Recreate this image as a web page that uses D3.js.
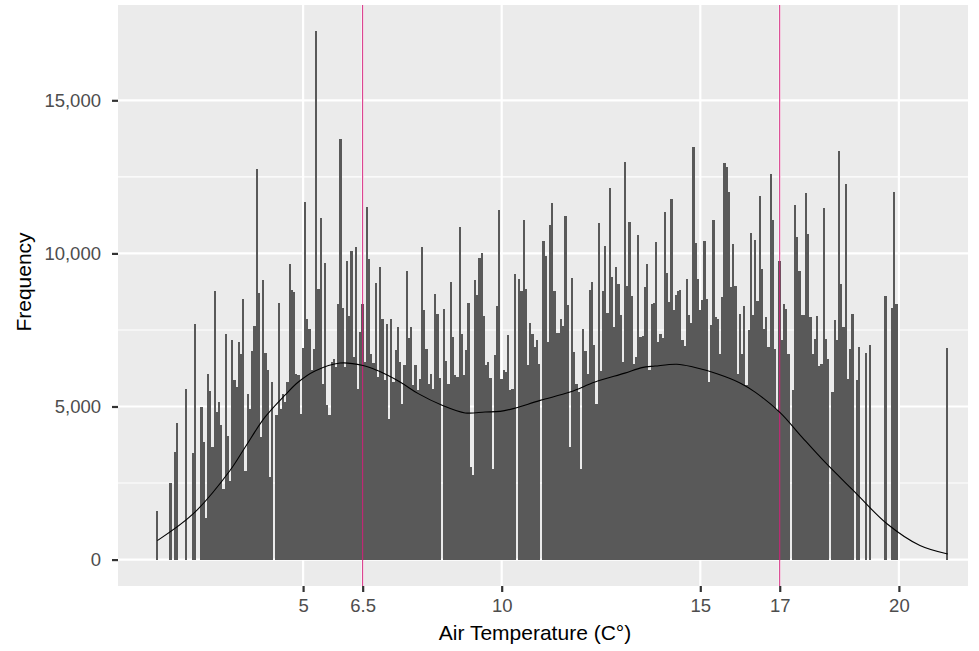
<!DOCTYPE html>
<html>
<head>
<meta charset="utf-8">
<script src="https://cdn.jsdelivr.net/npm/d3@7/dist/d3.min.js"></script>
<style>
	body { margin: 0; background: #fff; }
	text { font-family: "Liberation Sans", Arial, Helvetica, sans-serif; }
</style>
</head>
<body>
<div id="chart"></div>
<script>
	'use strict';

	// histogram bins: first bin centre (C) and spacing between bins
	var binStart = 1.33,
			binStep = 1 / 18;

	// counts per bin (10 per row)
	var counts = [
		1600, 0, 0, 0, 0, 0, 2500, 0, 3530, 4460,
		0, 0, 0, 5580, 0, 0, 3480, 7680, 0, 0,
		4980, 3840, 1350, 6050, 5500, 3670, 8760, 4820, 5140, 4380,
		2310, 7360, 4050, 2580, 7180, 5850, 5640, 7110, 6730, 8520,
		2900, 5420, 4930, 6810, 7630, 12770, 8720, 4000, 9120, 6750,
		6180, 2690, 5800, 0, 4710, 8380, 4930, 5420, 5140, 5800,
		9650, 8800, 8740, 6070, 6020, 4760, 6920, 11680, 7870, 7540,
		6180, 6890, 17250, 8850, 11140, 5740, 9690, 5040, 4710, 6450,
		6560, 6290, 8340, 13720, 8230, 6290, 9750, 7950, 10080, 6620,
		10210, 5580, 7430, 8340, 6450, 11520, 9810, 6730, 6420, 9030,
		5960, 9560, 7870, 5850, 7710, 4600, 7850, 5800, 6830, 7580,
		6450, 5090, 6340, 9420, 7240, 7580, 5690, 6370, 5530, 5910,
		10210, 8140, 6890, 5720, 6070, 5580, 8690, 8030, 5930, 0,
		8200, 6500, 5740, 9070, 7280, 6020, 5960, 10870, 7360, 6020,
		6830, 8380, 3020, 2750, 9120, 8650, 9860, 10010, 7970, 6340,
		6450, 5940, 2960, 6670, 8270, 11430, 5910, 6180, 6130, 7320,
		5550, 5580, 9320, 0, 9180, 8780, 11090, 8830, 6340, 7730,
		7380, 6940, 7160, 6380, 0, 10400, 9900, 7110, 10930, 11630,
		8780, 7410, 7410, 7850, 7630, 11220, 8310, 3670, 9210, 6780,
		5720, 5470, 2960, 7540, 6810, 6070, 8820, 9070, 7020, 5090,
		11000, 6160, 8760, 10230, 8050, 12120, 9230, 7600, 9560, 8990,
		7980, 6450, 12990, 8940, 11030, 8610, 6400, 6620, 10600, 7280,
		7290, 8910, 9670, 6200, 8360, 8390, 10380, 7110, 7360, 7240,
		11360, 9360, 8410, 11770, 8140, 8630, 8760, 8800, 7160, 6980,
		9180, 7980, 7730, 13480, 10340, 9180, 8140, 8470, 10410, 8520,
		5800, 7650, 11090, 7910, 7850, 6730, 8560, 12940, 12830, 12010,
		8910, 10320, 8930, 6050, 8030, 6730, 8280, 5690, 7500, 10650,
		8000, 10450, 8450, 11870, 9500, 7540, 7930, 6940, 12590, 11090,
		6890, 4870, 9750, 7180, 8340, 8200, 6730, 0, 5550, 11580,
		10520, 9420, 7980, 7980, 11960, 10630, 7910, 6710, 7220, 7950,
		6320, 6400, 11470, 7220, 6560, 0, 5470, 7820, 7160, 13340,
		9010, 7600, 12260, 5910, 6880, 8010, 0, 5850, 6950, 0,
		0, 6750, 0, 7020, 0, 0, 0, 0, 0, 0,
		8620, 0, 0, 8220, 12000, 8340, 0, 0, 0, 0,
		0, 0, 0, 0, 0, 0, 0, 0, 0, 0,
		0, 0, 0, 0, 0, 0, 0, 0, 6910
	];

	// smoothed curve over the histogram
	var densityTemp = [1.33, 2.23, 3.16, 3.54, 4.04, 4.55, 4.88, 5.30, 5.93, 6.51, 6.86, 7.44,
		7.90, 8.50, 9.08, 9.58, 9.96, 10.29, 10.97, 11.72, 12.35, 13.10, 13.53, 13.86,
		14.41, 14.82, 15.42, 16.00, 16.38, 17.01, 17.56, 18.14, 18.85, 19.70, 20.53, 21.23];
	var densityCount = [620, 1490, 2910, 3670, 4650, 5380, 5800, 6160, 6420, 6340, 6180, 5800,
		5420, 5040, 4790, 4820, 4840, 4930, 5200, 5470, 5800, 6090, 6270, 6320,
		6380, 6290, 6070, 5770, 5470, 4800, 4000, 3180, 2260, 1170, 460, 185];

	var xBreaks = [5, 6.5, 10, 15, 17, 20],
			yBreaks = [0, 5000, 10000, 15000],
			yMinor = [2500, 7500, 12500],
			refLines = [6.5, 17];

	var W = 979, H = 651,
			panel = { left: 118, right: 968, top: 5, bottom: 586 };

	var bins = counts.map(function (c, i) {
		return { temp: binStart + i * binStep, count: c };
	});

	var yMax = d3.max(counts),
			yPad = yMax * 0.05;

	var x = d3.scaleLinear().domain([0.34, 21.74]).range([panel.left, panel.right]);
	var y = d3.scaleLinear().domain([-yPad, yMax + yPad]).range([panel.bottom, panel.top]);

	var svg = d3.select('#chart')
		.append('svg')
		.attr('width', W)
		.attr('height', H);

	svg.append('rect')
		.attr('x', panel.left)
		.attr('y', panel.top)
		.attr('width', panel.right - panel.left)
		.attr('height', panel.bottom - panel.top)
		.attr('fill', '#EBEBEB');

	// grid
	svg.selectAll('.ygrid-minor')
		.data(yMinor)
		.enter().append('line')
		.attr('x1', panel.left).attr('x2', panel.right)
		.attr('y1', function (d) { return y(d); })
		.attr('y2', function (d) { return y(d); })
		.attr('stroke', '#fff').attr('stroke-width', 1.1);

	svg.selectAll('.ygrid')
		.data(yBreaks)
		.enter().append('line')
		.attr('x1', panel.left).attr('x2', panel.right)
		.attr('y1', function (d) { return y(d); })
		.attr('y2', function (d) { return y(d); })
		.attr('stroke', '#fff').attr('stroke-width', 2.2);

	svg.selectAll('.xgrid')
		.data(xBreaks)
		.enter().append('line')
		.attr('y1', panel.top).attr('y2', panel.bottom)
		.attr('x1', function (d) { return x(d); })
		.attr('x2', function (d) { return x(d); })
		.attr('stroke', '#fff').attr('stroke-width', 2.2);

	// bars
	var barW = x(binStep) - x(0);
	svg.append('g')
		.attr('shape-rendering', 'crispEdges')
		.selectAll('rect')
		.data(bins.filter(function (d) { return d.count > 0; }))
		.enter().append('rect')
		.attr('x', function (d) { return x(d.temp) - barW / 2; })
		.attr('width', barW)
		.attr('y', function (d) { return y(d.count); })
		.attr('height', function (d) { return y(0) - y(d.count); })
		.attr('fill', '#595959');

	// reference lines
	svg.selectAll('.vline')
		.data(refLines)
		.enter().append('line')
		.attr('y1', panel.top).attr('y2', panel.bottom)
		.attr('x1', function (d) { return x(d); })
		.attr('x2', function (d) { return x(d); })
		.attr('stroke', '#D4207A').attr('stroke-width', 1);

	// curve
	var curve = densityTemp.map(function (t, i) { return [t, densityCount[i]]; });
	svg.append('path')
		.datum(curve)
		.attr('fill', 'none')
		.attr('stroke', '#000')
		.attr('stroke-width', 1.1)
		.attr('d', d3.line()
			.x(function (d) { return x(d[0]); })
			.y(function (d) { return y(d[1]); })
			.curve(d3.curveCatmullRom.alpha(0.5))
		);

	// axes
	var xAxis = svg.append('g')
		.attr('transform', 'translate(0,' + panel.bottom + ')')
		.call(d3.axisBottom(x).tickValues(xBreaks).tickSize(6).tickPadding(7)
			.tickFormat(function (d) { return d; }));

	var yAxis = svg.append('g')
		.attr('transform', 'translate(' + panel.left + ',0)')
		.call(d3.axisLeft(y).tickValues(yBreaks).tickSize(6).tickPadding(11)
			.tickFormat(d3.format(',')));

	[xAxis, yAxis].forEach(function (g) {
		g.select('.domain').remove();
		g.selectAll('.tick line').attr('stroke', '#333333').attr('stroke-width', 2.2);
		g.selectAll('.tick text')
			.attr('fill', '#4D4D4D')
			.style('font-size', '18.5px')
			.style('font-family', '"Liberation Sans", Arial, sans-serif');
	});

	svg.append('text')
		.attr('x', 535)
		.attr('y', 640)
		.attr('text-anchor', 'middle')
		.style('font-size', '21px')
		.text('Air Temperature (C°)');

	svg.append('text')
		.attr('transform', 'translate(31,282) rotate(-90)')
		.attr('text-anchor', 'middle')
		.style('font-size', '21px')
		.text('Frequency');
</script>
</body>
</html>
